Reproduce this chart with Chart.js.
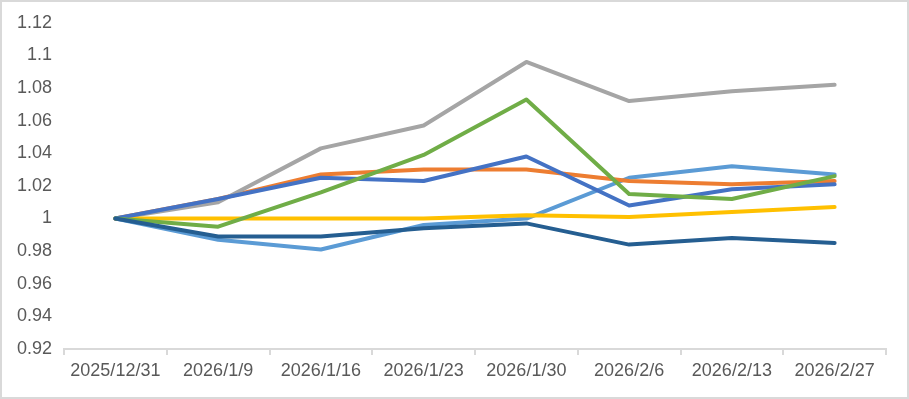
<!DOCTYPE html>
<html>
<head>
<meta charset="utf-8">
<script src="https://cdn.jsdelivr.net/npm/chart.js@4/dist/chart.umd.min.js"></script>
<style>
  html, body { margin: 0; padding: 0; background: #fff; }
  .wrap { position: relative; width: 909px; height: 399px; }
  .frame {
    position: absolute; left: 0; top: 0; width: 909px; height: 399px;
    box-sizing: border-box; border: 2px solid #d9d9d9; pointer-events: none;
  }
</style>
</head>
<body>
<div class="wrap">
  <canvas id="lineChart" width="909" height="399"></canvas>
  <div class="frame"></div>
</div>
<script>
// ==========================
// DATA
// ==========================
const categories = ["2025/12/31", "2026/1/9", "2026/1/16", "2026/1/23", "2026/1/30", "2026/2/6", "2026/2/13", "2026/2/27"];
const yTicks = [0.92, 0.94, 0.96, 0.98, 1, 1.02, 1.04, 1.06, 1.08, 1.1, 1.12];

const seriesLightBlue = [1, 0.987, 0.981, 0.996, 1.000, 1.025, 1.032, 1.027];
const seriesOrange    = [1, 1.012, 1.027, 1.030, 1.030, 1.023, 1.021, 1.023];
const seriesGray      = [1, 1.010, 1.043, 1.057, 1.096, 1.072, 1.078, 1.082];
const seriesYellow    = [1, 1.000, 1.000, 1.000, 1.002, 1.001, 1.004, 1.007];
const seriesBlue      = [1, 1.012, 1.025, 1.023, 1.038, 1.008, 1.018, 1.021];
const seriesGreen     = [1, 0.995, 1.016, 1.039, 1.073, 1.015, 1.012, 1.026];
const seriesDarkBlue  = [1, 0.989, 0.989, 0.994, 0.997, 0.984, 0.988, 0.985];

const seriesList = [seriesLightBlue, seriesOrange, seriesGray, seriesYellow, seriesBlue, seriesGreen, seriesDarkBlue];
const colors = ["#5B9BD5", "#ED7D31", "#A5A5A5", "#FFC000", "#4472C4", "#70AD47", "#255E91"];

// ==========================
// CHART
// ==========================
const textColor = "#595959";
const fontFamily = "'Liberation Sans', Arial, sans-serif";

new Chart(document.getElementById("lineChart"), {
    type: "line",
    data: {
        labels: categories,
        datasets: seriesList.map((data, i) => ({
            label: "S" + (i + 1),
            data,
            borderColor: colors[i],
            backgroundColor: colors[i],
            borderWidth: 4,
            pointRadius: 0,
            tension: 0,
            fill: false,
            borderCapStyle: "round",
            borderJoinStyle: "round",
            order: seriesList.length - i // later series drawn on top
        }))
    },
    options: {
        responsive: false,
        animation: false,
        layout: { padding: { top: 21, right: 23, left: 0, bottom: 0 } },
        plugins: {
            legend: { display: false },
            tooltip: { enabled: false }
        },
        scales: {
            y: {
                min: 0.92,
                max: 1.12,
                afterBuildTicks: axis => { axis.ticks = yTicks.map(v => ({ value: v })); },
                afterFit: axis => { axis.width = 64; },
                grid: { display: false, drawTicks: false },
                border: { display: false },
                ticks: {
                    color: textColor,
                    padding: 12,
                    font: { family: fontFamily, size: 18 },
                    callback: v => String(parseFloat(v.toFixed(2)))
                }
            },
            x: {
                offset: true,
                afterFit: axis => { axis.height = 50; },
                grid: {
                    display: true,
                    offset: true,
                    drawOnChartArea: false,
                    drawTicks: true,
                    tickLength: 6,
                    color: "#d9d9d9",
                    lineWidth: 2
                },
                border: { display: true, color: "#d9d9d9", width: 2 },
                ticks: {
                    color: textColor,
                    padding: 5,
                    maxRotation: 0,
                    autoSkip: false,
                    font: { family: fontFamily, size: 18 }
                }
            }
        }
    }
});
</script>
</body>
</html>
